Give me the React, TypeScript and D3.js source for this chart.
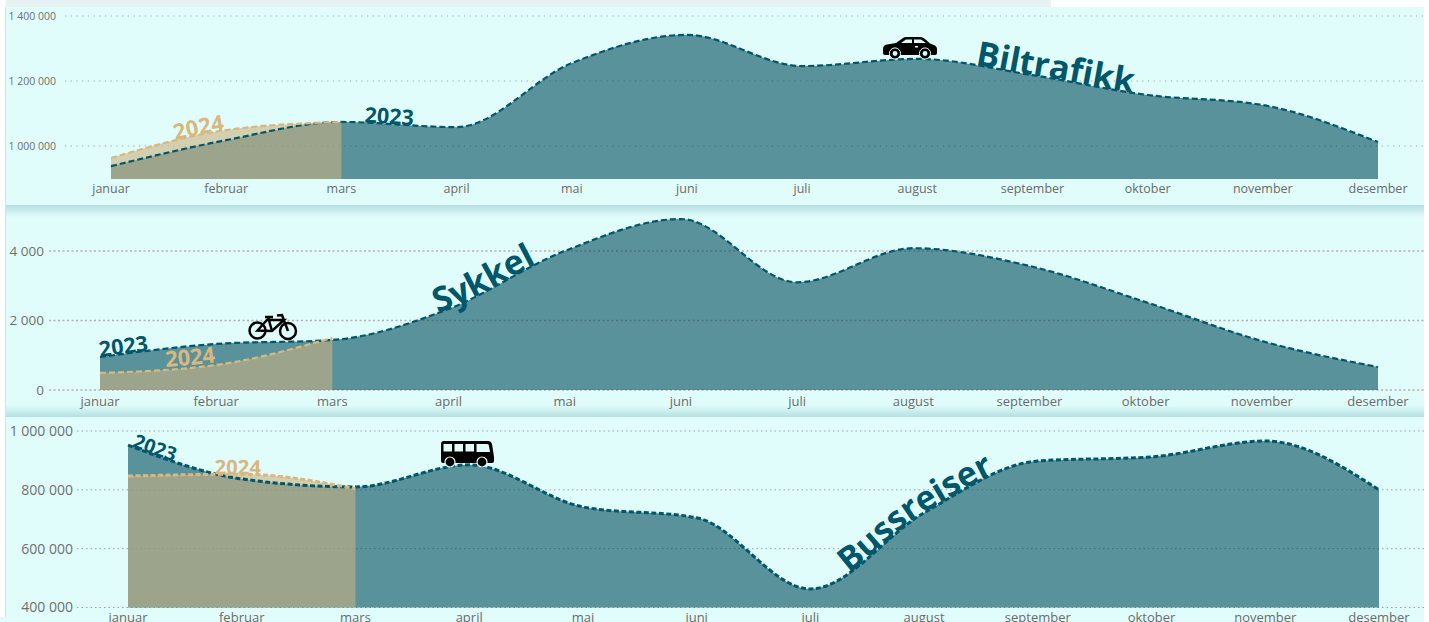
import React from "react";
import * as d3 from "d3";

const months = ["januar","februar","mars","april","mai","juni","juli","august","september","oktober","november","desember"];

const car2023 = [938000,1018000,1074000,1058000,1255000,1342000,1246000,1268000,1218000,1157000,1126000,1012000];
const car2024 = [963000,1049000,1074000];
const carTicks = [1000000,1200000,1400000];

const bike2023 = [950,1325,1440,2330,4000,4920,3100,4080,3570,2530,1410,660];
const bike2024 = [490,720,1500];
const bikeTicks = [0,2000,4000];

const bus2023 = [952000,837000,810000,885000,742000,705000,463000,722000,898000,912000,966000,800000];
const bus2024 = [847000,853000,804000];
const busTicks = [400000,600000,800000,1000000];

const fmt = d3.formatLocale({ decimal: ",", thousands: " ", grouping: [3], currency: ["", ""] }).format(",");
const DARK = "#00566a";
const TAN = "#d9b77e";
const TANFILL = "#c8b380";
const AREA = "#004b5e";
const BG = "#e0fdfb";

function Panel({ id, v23, v24, ticks, x0, x1, yDomain, yRange, gridX0, tickX, tickFs, xFs, xLabelY, gridColor, gridDash, gridW, lw, dash, main, mainOffset, mainFs, mainDy, l23, l24, labelFs23, labelFs24 }: any) {
  const x = d3.scalePoint<string>().domain(months).range([x0, x1]);
  const y = d3.scaleLinear().domain(yDomain).range(yRange);
  const base = yRange[0];
  const line = d3.line<number>().x((_, i) => x(months[i])!).y(d => y(d)).curve(d3.curveMonotoneX);
  const area = d3.area<number>().x((_, i) => x(months[i])!).y0(base).y1(d => y(d)).curve(d3.curveMonotoneX);
  const label = (txt: string, href: string, o: any, fill: string, fs: number) => (
    <text fontFamily="'Open Sans'" fontWeight={700} fontSize={fs} fill={fill} dy={o.dy}>
      <textPath href={`#${href}`} startOffset={o.at}>{txt}</textPath>
    </text>
  );
  return (
    <g>
      {ticks.map((t: number) => (
        <g key={t}>
          <line x1={gridX0} x2={1424} y1={y(t)} y2={y(t)} stroke={gridColor} strokeWidth={gridW} strokeDasharray={gridDash} />
          <text x={tickX} y={y(t)} dy="0.35em" textAnchor="end" fontFamily="'Open Sans'" fontSize={tickFs} fill="#6f6f6f">{fmt(t)}</text>
        </g>
      ))}
      <path d={area(v23)!} fill={AREA} fillOpacity={0.6} />
      <path d={area(v24)!} fill={TANFILL} fillOpacity={0.6} />
      <path id={`${id}23`} d={line(v23)!} fill="none" stroke={DARK} strokeWidth={lw} strokeDasharray={dash} />
      <path id={`${id}24`} d={line(v24)!} fill="none" stroke={TAN} strokeWidth={lw} strokeDasharray={dash} />
      {label(main, `${id}23`, { at: mainOffset, dy: mainDy }, DARK, mainFs)}
      {label("2023", `${id}23`, l23, DARK, labelFs23)}
      {label("2024", `${id}24`, l24, TAN, labelFs24)}
      {months.map(m => (
        <text key={m} x={x(m)} y={xLabelY} textAnchor="middle" fontFamily="'Open Sans'" fontSize={xFs} fill="#6b6b6b">{m}</text>
      ))}
    </g>
  );
}

const Car = () => (
  <g transform="translate(883,37)">
    <path d="M0 12 Q0 8 4 7.5 L13 6 L20 1 Q21 0 24 0 L37 0 Q40 0 42 2 L47 6.5 L52 8.5 Q54 9.5 54 12 L54 16 Q54 18 51 18 L3 18 Q0 18 0 16 Z" fill="#000" />
    <path d="M18 6 L23 2.5 L29 2.5 L29 6 Z M31 2.5 L38 2.5 L43 6 L31 6 Z" fill={BG} />
    <rect x="32" y="9" width="3" height="1.5" fill={BG} />
    <circle cx="12" cy="16.5" r="5.6" fill="#000" stroke={BG} strokeWidth="1" />
    <circle cx="12" cy="16.5" r="2.4" fill={BG} />
    <circle cx="42" cy="16.5" r="5.6" fill="#000" stroke={BG} strokeWidth="1" />
    <circle cx="42" cy="16.5" r="2.4" fill={BG} />
  </g>
);

const Bike = () => (
  <g transform="translate(248,314)" fill="none" stroke="#000" strokeWidth="2.5">
    <circle cx="9.5" cy="16.5" r="8" />
    <circle cx="40" cy="17" r="8" />
    <path d="M9.5 16.5 L19 6 L36 6 L24 17 Z M17 3 L25 3 M20 3 L24 17 M40 17 L34 1 L29 1.5" />
  </g>
);

const Bus = () => (
  <g transform="translate(441,441)">
    <path d="M3 0 L47 0 Q50 0 51 3 L53 16 L53 20 Q53 22 51 22 L2 22 Q0 22 0 20 L0 3 Q0 0 3 0 Z" fill="#000" />
    <path d="M2.5 3 L11 3 L11 10.5 L2.5 10.5 Z M13.5 3 L22 3 L22 10.5 L13.5 10.5 Z M24.5 3 L33 3 L33 10.5 L24.5 10.5 Z M35.5 3 L46 3 Q48 3 48 5 L49 11 L35.5 11 Z" fill={BG} />
    <circle cx="9" cy="21" r="5" fill="#000" stroke={BG} strokeWidth="1.2" />
    <circle cx="41" cy="21" r="5" fill="#000" stroke={BG} strokeWidth="1.2" />
  </g>
);

export default function App() {
  return (
    <svg width={1429} height={622} style={{ position: "fixed", left: 0, top: 0, display: "block", background: "#fff" }}>
      <defs>
        <linearGradient id="down" x1="0" x2="0" y1="0" y2="1">
          <stop offset="0" stopColor="#b5dfe0" />
          <stop offset="1" stopColor={BG} />
        </linearGradient>
        <linearGradient id="up" x1="0" x2="0" y1="0" y2="1">
          <stop offset="0" stopColor={BG} />
          <stop offset="1" stopColor="#b5dfe0" />
        </linearGradient>
      </defs>
      <rect x={6} y={0} width={1045} height={7} fill="#e6f2f2" />
      <rect x={6} y={7} width={1418} height={198} fill={BG} />
      <rect x={6} y={205} width={1418} height={212} fill={BG} />
      <rect x={6} y={417} width={1418} height={205} fill={BG} />
      <rect x={0} y={617} width={6} height={5} fill={BG} />
      <rect x={6} y={205} width={1418} height={12} fill="url(#down)" />
      <rect x={6} y={405} width={1418} height={12} fill="url(#up)" />
      <line x1={5.5} x2={5.5} y1={7} y2={617} stroke="#cfe6e6" />

      <Panel id="car" v23={car2023} v24={car2024} ticks={carTicks} x0={111} x1={1378}
        yDomain={[898462, 1400000]} yRange={[179, 16]} gridX0={65} tickX={56} tickFs={10.5} xFs={12.5} xLabelY={193}
        gridColor="#9aa5a3" gridDash="1.2 4.5" gridW={1} lw={2.2} dash="6 3"
        main="Biltrafikk" mainOffset="68.5%" mainFs={34} mainDy={0}
        l23={{ at: "19.7%", dy: 0 }} l24={{ at: "28.5%", dy: 0 }} labelFs23={21.5} labelFs24={22} />
      <Car />

      <Panel id="bike" v23={bike2023} v24={bike2024} ticks={bikeTicks} x0={100} x1={1378}
        yDomain={[0, 4000]} yRange={[390, 251]} gridX0={49} tickX={44} tickFs={13.5} xFs={13} xLabelY={406}
        gridColor="#b5adad" gridDash="2 2.5" gridW={1.4} lw={2.2} dash="6 3"
        main="Sykkel" mainOffset="25.5%" mainFs={34} mainDy={0}
        l23={{ at: "0%", dy: 0 }} l24={{ at: "28%", dy: -3 }} labelFs23={21.5} labelFs24={22} />
      <Bike />

      <Panel id="bus" v23={bus2023} v24={bus2024} ticks={busTicks} x0={128} x1={1379}
        yDomain={[400000, 1000000]} yRange={[607.5, 431]} gridX0={77} tickX={73} tickFs={14} xFs={13} xLabelY={622}
        gridColor="#9aa5a3" gridDash="1.5 3" gridW={1} lw={3} dash="5 2.5"
        main="Bussreiser" mainOffset="57%" mainFs={34} mainDy={0}
        l23={{ at: "0.3%", dy: 0 }} l24={{ at: "38%", dy: 0 }} labelFs23={19.5} labelFs24={20} />
      <Bus />
    </svg>
  );
}
